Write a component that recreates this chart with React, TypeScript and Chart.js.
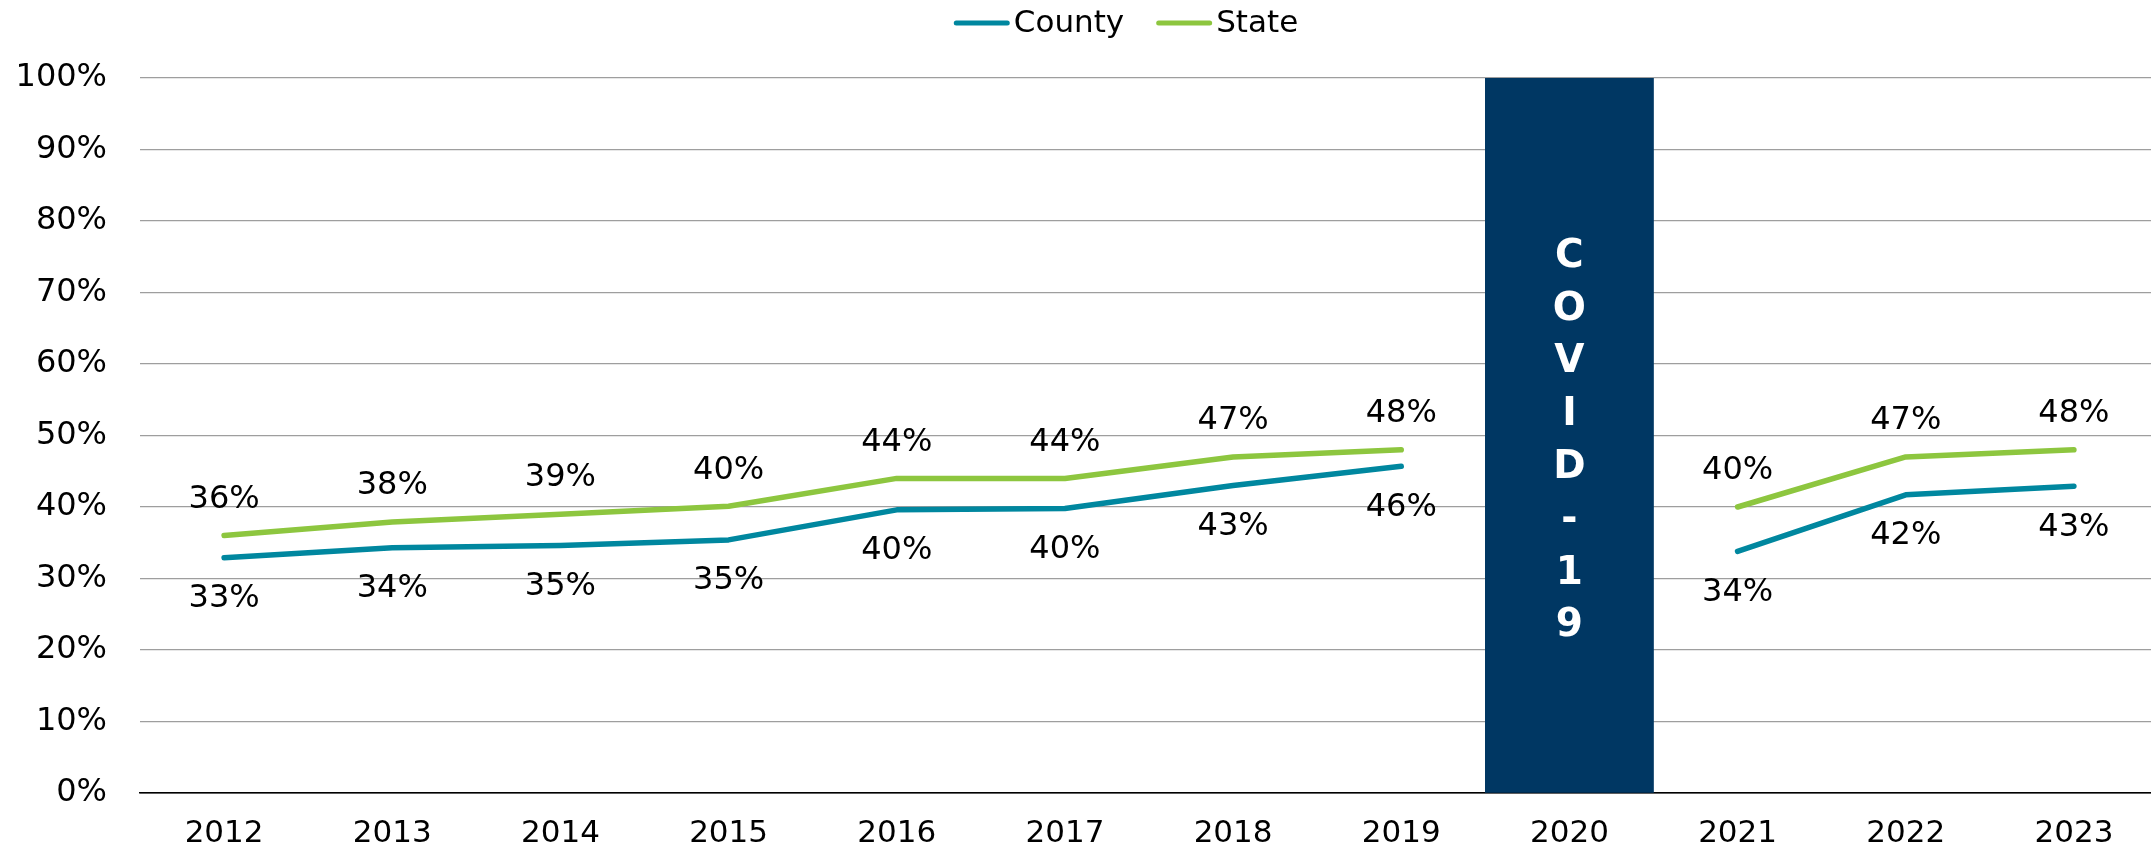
import React, { useEffect, useRef } from "react";
import { Chart, registerables } from "chart.js";

Chart.register(...registerables);

const years = ["2012", "2013", "2014", "2015", "2016", "2017", "2018", "2019", "2020", "2021", "2022", "2023"];
const county = [32.9, 34.3, 34.6, 35.4, 39.6, 39.8, 43.0, 45.7, null, 33.8, 41.7, 42.9];
const state = [36.0, 37.9, 39.0, 40.1, 44.0, 44.0, 47.0, 48.0, null, 40.0, 47.0, 48.0];
const covid = [null, null, null, null, null, null, null, null, 100, null, null, null];
const covidLetters = ["C", "O", "V", "I", "D", "-", "1", "9"];

const COUNTY_COLOR = "#00879F";
const STATE_COLOR = "#8DC63F";
const BAR_COLOR = "#003763";
const FONT = "'DejaVu Sans', Verdana, sans-serif";

const labelPlugin = {
  id: "customLabels",
  afterDatasetsDraw(chart: any) {
    const ctx = chart.ctx;
    ctx.save();
    // point labels
    ctx.font = `32px ${FONT}`;
    ctx.fillStyle = "#000";
    ctx.textAlign = "center";
    ctx.textBaseline = "middle";
    chart.data.datasets.forEach((ds: any, di: number) => {
      if (ds.type !== "line") return;
      const meta = chart.getDatasetMeta(di);
      meta.data.forEach((pt: any, i: number) => {
        const v = ds.data[i];
        if (v === null || v === undefined) return;
        const txt = Math.round(v) + "%";
        const dy = ds.labelPos === "above" ? -36 : 41;
        ctx.fillText(txt, pt.x, pt.y + dy);
      });
    });
    // COVID text
    const barMeta = chart.getDatasetMeta(0);
    const bar: any = barMeta.data[8];
    if (bar) {
      const ca = chart.chartArea;
      ctx.font = `bold 39px ${FONT}`;
      ctx.fillStyle = "#fff";
      const spacing = 52.8;
      const mid = (ca.top + ca.bottom) / 2 + 6;
      const start = mid - (spacing * (covidLetters.length - 1)) / 2;
      covidLetters.forEach((l, i) => {
        ctx.fillText(l, bar.x, start + i * spacing);
      });
    }
    // legend
    ctx.font = `31px ${FONT}`;
    ctx.textAlign = "left";
    ctx.fillStyle = "#000";
    const items = [
      { t: "County", c: COUNTY_COLOR },
      { t: "State", c: STATE_COLOR },
    ];
    const lineW = 56, g1 = 4, g2 = 32;
    const widths = items.map((it) => ctx.measureText(it.t).width);
    const total = items.length * (lineW + g1) + widths.reduce((a, b) => a + b, 0) + g2 * (items.length - 1);
    let x = 1126 - total / 2;
    const y = 23;
    items.forEach((it, i) => {
      ctx.strokeStyle = it.c;
      ctx.lineWidth = 5;
      ctx.lineCap = "round";
      ctx.beginPath();
      ctx.moveTo(x + 2.5, y);
      ctx.lineTo(x + lineW - 2.5, y);
      ctx.stroke();
      x += lineW + g1;
      ctx.fillText(it.t, x, y + 1);
      x += widths[i] + g2;
    });
    ctx.restore();
  },
};

const CW = 2158;

export default function App() {
  const ref = useRef<HTMLCanvasElement>(null);
  useEffect(() => {
    if (!ref.current) return;
    const chart = new Chart(ref.current, {
      type: "bar",
      data: {
        labels: years,
        datasets: [
          {
            type: "bar",
            label: "COVID-19",
            data: covid as any,
            backgroundColor: BAR_COLOR,
            barPercentage: 1,
            categoryPercentage: 1,
            order: 3,
          } as any,
          {
            type: "line",
            label: "County",
            data: county as any,
            borderColor: COUNTY_COLOR,
            backgroundColor: COUNTY_COLOR,
            borderWidth: 5.5,
            borderCapStyle: "round",
            borderJoinStyle: "round",
            pointRadius: 0,
            spanGaps: false,
            labelPos: "below",
            order: 1,
          } as any,
          {
            type: "line",
            label: "State",
            data: state as any,
            borderColor: STATE_COLOR,
            backgroundColor: STATE_COLOR,
            borderWidth: 5.5,
            borderCapStyle: "round",
            borderJoinStyle: "round",
            pointRadius: 0,
            spanGaps: false,
            labelPos: "above",
            order: 2,
          } as any,
        ],
      },
      options: {
        animation: false,
        responsive: false,
        maintainAspectRatio: false,
        layout: { padding: { top: 78, left: 0, right: 0, bottom: 0 } },
        plugins: {
          legend: { display: false },
          tooltip: { enabled: false },
        },
        scales: {
          x: {
            grid: { display: false, drawTicks: false },
            border: { display: true, color: "#000", width: 1.5 },
            ticks: {
              color: "#000",
              font: { family: FONT, size: 31 },
              padding: 22,
              maxRotation: 0,
            },
            afterFit: (s: any) => {
              s.height = 59;
            },
          },
          y: {
            min: 0,
            max: 100,
            grid: {
              color: (c: any) => (c.tick && c.tick.value === 0 ? "#000" : "#9E9E9E"),
              lineWidth: 1.2,
              drawTicks: false,
            },
            border: { display: false },
            ticks: {
              stepSize: 10,
              color: "#000",
              font: { family: FONT, size: 32 },
              padding: 33,
              callback: (v: any) => v + "%",
            },
            afterFit: (s: any) => {
              s.width = 140;
            },
          },
        },
      },
      plugins: [labelPlugin],
    });
    return () => chart.destroy();
  }, []);
  return (
    <div style={{ position: "fixed", left: 0, top: 0, width: 2151, height: 852, background: "#fff", overflow: "hidden" }}>
      <canvas ref={ref} width={CW} height={852} style={{ width: CW, height: 852, display: "block" }} />
    </div>
  );
}
